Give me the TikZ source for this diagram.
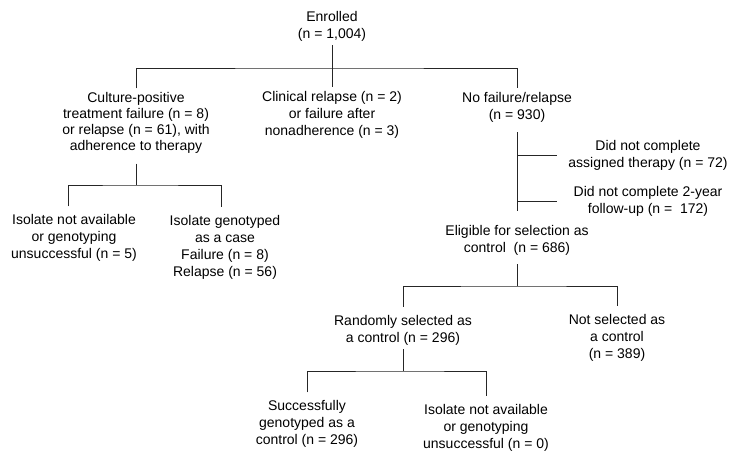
\documentclass[tikz,border=0pt]{standalone}
\usepackage{fontspec}
\setmainfont{Liberation Sans}
\begin{document}
\begin{tikzpicture}[x=1pt, y=-1pt,
        box/.style={align=center, inner sep=0pt, outer sep=4pt, font=\fontsize{14}{17}\selectfont},
        link/.style={line width=0.8pt, draw=black!85},
        drop/.style={link, shorten <=4pt, shorten >=4pt}]
    \useasboundingbox (0,0) rectangle (739,461);

    \node[box] (enrolled) at (332,26) {Enrolled\\(n = 1,004)};
    \node[box, font=\fontsize{14}{16}\selectfont] (culture) at (136,123) {Culture-positive\\treatment failure (n = 8)\\or relapse (n = 61), with\\adherence to therapy};
    \node[box] (clinical) at (332,115) {Clinical relapse (n = 2)\\or failure after\\nonadherence (n = 3)};
    \node[box] (nofail) at (517,107) {No failure/relapse\\(n = 930)};
    \node[box] (notdone) at (648,155) {Did not complete\\assigned therapy (n = 72)};
    \node[box] (nofollow) at (648,201) {Did not complete 2-year\\follow-up (n = \ 172)};
    \node[box] (eligible) at (517,240) {Eligible for selection as\\control \ (n = 686)};
    \node[box] (iso5) at (74,238) {Isolate not available\\or genotyping\\unsuccessful (n = 5)};
    \node[box] (genotyped) at (225,247) {Isolate genotyped\\as a case\\Failure (n = 8)\\Relapse (n = 56)};
    \node[box] (random) at (403,330) {Randomly selected as\\a control (n = 296)};
    \node[box] (notsel) at (617,338) {Not selected as\\a control\\(n = 389)};
    \node[box] (success) at (307,424) {Successfully\\genotyped as a\\control (n = 296)};
    \node[box] (iso0) at (486,428) {Isolate not available\\or genotyping\\unsuccessful (n = 0)};

    \coordinate (bar1) at (332,68);
    \coordinate (bar2) at (136,185);
    \coordinate (bar3) at (517,286);
    \coordinate (bar4) at (403,371);
    \coordinate (stub) at (557,0);

    \draw[link] (enrolled.south) -- (clinical.north);
    \draw[link] (culture.north) |- (bar1) -| (nofail.north);

    \draw[link, shorten <=6pt] (culture.south) -- (bar2);
    \draw[drop] ([xshift=-6pt]iso5.north) |- (bar2) -| ([xshift=-4pt]genotyped.north);

    \draw[link, shorten <=6pt, shorten >=10pt] (nofail.south) -- (eligible.north);
    \draw[link] (nofail.south |- notdone.west) -- (stub |- notdone.west);
    \draw[link] (nofail.south |- nofollow.west) -- (stub |- nofollow.west);

    \draw[link, shorten <=5pt] (eligible.south) -- (bar3);
    \draw[drop] (random.north) |- (bar3) -| (notsel.north);

    \draw[link] (random.south) -- (bar4);
    \draw[drop] (success.north) |- (bar4) -| (iso0.north);
\end{tikzpicture}
\end{document}
